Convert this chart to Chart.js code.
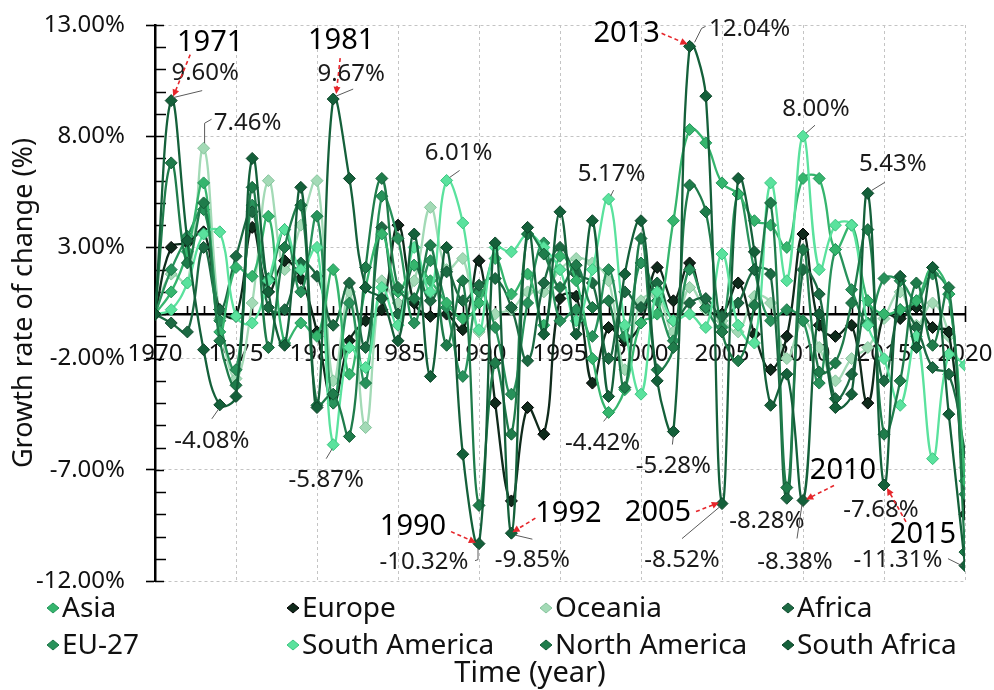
<!DOCTYPE html>
<html>
<head>
<meta charset="utf-8">
<script src="https://cdn.jsdelivr.net/npm/chart.js@4.4.1/dist/chart.umd.min.js"></script>
<style>
  html, body { margin: 0; padding: 0; background: #fff; }
  #wrap { width: 994px; height: 690px; position: relative; }
</style>
</head>
<body>
<div id="wrap"><canvas id="chart" width="994" height="690"></canvas></div>
<script>
// Years on the horizontal axis
const years = [1970, 1971, 1972, 1973, 1974, 1975, 1976, 1977, 1978, 1979,
  1980, 1981, 1982, 1983, 1984, 1985, 1986, 1987, 1988, 1989,
  1990, 1991, 1992, 1993, 1994, 1995, 1996, 1997, 1998, 1999,
  2000, 2001, 2002, 2003, 2004, 2005, 2006, 2007, 2008, 2009,
  2010, 2011, 2012, 2013, 2014, 2015, 2016, 2017, 2018, 2019, 2020];

// Annual growth rate of change (%) per region
const asia = [0, 1.0, 2.8, 5.9, -0.8, 2.1, 1.7, 4.4, -1.3, -0.4,
  -1.0, 2.0, -2.7, 1.2, 3.6, 1.0, 2.2, 1.5, 0.5, -0.2,
  0.5, 2.5, 0.9, 1.8, -0.5, 2.6, 1.5, -2.0, -4.42, -3.4,
  -0.4, 0.0, 4.2, 8.3, 7.7, 5.9, 5.4, 4.2, 4.0, 3.0,
  6.1, 6.1, 2.9, 4.0, 0.6, 0.0, 0.2, 0.6, 2.1, 0.9, -7.5];
const europe = [0, 3.0, 3.2, 3.7, 0.2, -0.1, 3.9, 1.0, 2.4, 1.6,
  -0.8, -4.0, -1.2, -0.3, 0.2, 4.0, 0.5, -0.1, 0.0, -0.7,
  2.4, -4.0, -8.4, -4.2, -5.4, 0.7, 0.8, -3.1, -0.6, -1.2,
  -0.4, 2.1, 0.6, 2.3, 0.3, 0.0, 1.4, -0.9, -2.5, -1.0,
  3.6, -0.5, -1.0, -0.5, -4.0, 0.0, -0.2, 0.3, -0.6, -0.8, -9.0];
const oceania = [0, 1.8, 1.4, 7.46, -0.2, -2.9, 0.5, 6.0, 2.0, 4.0,
  6.0, -3.0, 1.0, -5.1, 1.5, 0.5, 1.5, 4.8, 2.0, 2.5,
  -0.8, 0.0, 0.2, 1.0, 1.0, 2.0, 2.5, 2.3, 1.5, -2.5,
  0.6, 0.8, -0.8, 1.2, 0.2, -0.3, -0.8, 0.8, 0.5, -2.0,
  -0.3, -1.5, -3.0, -2.0, -1.5, -0.2, 1.0, -0.5, 0.5, -1.0, -6.9];
const africa = [0, -0.4, -0.8, 3.0, 0.2, 2.6, 4.6, 0.3, 0.2, 2.3,
  1.7, -0.5, 1.4, -1.5, 3.9, 0.0, 2.2, 0.6, 1.9, 0.6,
  1.3, 1.6, 0.3, -2.1, 1.4, 3.0, 1.8, 1.4, -2.0, 1.0,
  0.3, 1.4, -0.3, 0.5, 0.7, -0.1, 0.5, 2.0, 1.8, -8.28,
  2.0, 0.9, -3.8, -2.7, 0.6, -3.0, 0.2, -0.6, -2.4, -2.7, -6.2];
const eu27 = [0, 2.0, 3.5, 4.7, -0.3, -2.5, 4.9, 1.6, 3.8, 1.0,
  4.4, -4.0, 0.5, -3.1, 5.3, 3.4, -0.4, 2.4, 0.3, -2.8,
  1.0, -0.6, -3.6, 0.5, 3.2, -0.3, 0.2, -1.0, 2.0, -1.0,
  2.3, 0.6, -1.2, 2.0, 0.3, -0.6, 5.4, 2.0, -0.3, 0.2,
  -0.3, -3.1, 2.9, 1.1, -0.4, 1.6, 1.5, 0.6, 1.8, 0.9, -8.1];
const southAmerica = [0, 0.2, 1.4, 3.6, 3.7, -0.1, -0.4, 1.5, 3.8, 2.0,
  3.0, -5.87, -1.5, -2.4, 1.2, -0.5, 3.0, 1.0, 6.01, 4.1,
  -0.7, 3.0, 2.8, 3.6, 3.0, 2.0, -0.3, 2.0, 5.17, -0.5,
  -3.6, 1.0, -0.3, 0.0, -0.6, 2.7, -0.5, -1.3, 5.9, 1.5,
  8.00, 2.0, 4.0, 4.0, -0.5, -2.0, -4.1, -1.0, -6.5, -1.8, -2.3];
const northAmerica = [0, 6.8, 2.3, 5.0, -1.2, -3.2, 5.7, -1.5, 3.0, 4.9,
  -4.1, -3.6, -5.5, 2.1, 6.1, 1.2, 0.7, 3.1, -1.4, 1.5,
  -8.6, -2.2, -5.4, 3.6, 2.7, 1.2, 2.2, 0.3, 0.6, -3.3,
  3.4, -2.5, -1.5, 5.8, 4.6, -0.8, -2.1, 0.4, 5.0, -7.8,
  2.9, -2.6, -2.2, 0.5, 3.8, -5.4, -3.0, 1.4, -1.4, 1.2, -10.7];
const southAfrica = [0, 9.60, 3.3, -1.6, -4.08, -3.7, 7.0, 1.0, -1.4, 5.7,
  -4.2, 9.67, 6.1, 1.2, 0.7, -1.2, 3.6, -2.8, 3.0, -6.3,
  -10.32, 3.2, -9.85, 3.9, -0.9, 4.6, -0.9, 4.2, -3.7, 1.8,
  4.2, -3.0, -5.28, 12.04, 9.8, -8.52, 6.1, 2.8, -4.1, -2.7,
  -8.38, 0.0, -4.2, -3.6, 5.43, -7.68, 1.7, -1.5, 2.1, -4.5, -11.31];

// Value-axis ticks
const yTickValues = [-12, -7, -2, 3, 8, 13];

const seriesNames = ['Asia', 'Europe', 'Oceania', 'Africa', 'EU-27', 'South America', 'North America', 'South Africa'];
const seriesValues = [asia, europe, oceania, africa, eu27, southAmerica, northAmerica, southAfrica];
const seriesColors = ['#35b56d', '#0f2a1b', '#a3dab6', '#1c6a43', '#28925b', '#5ae29d', '#1f7c4b', '#14603a'];
const seriesBorders = ['#23945a', '#000000', '#86c39c', '#124d30', '#1b7446', '#3cc480', '#135c36', '#0c4428'];
const drawOrder = [3, 5, 6, 4, 4, 2, 1, 0];

const FONT = '"Noto Sans", "Open Sans", sans-serif';

// Callouts: value labels with leader lines, and year labels with red arrows
const callouts = [
  { s: 'South Africa', year: 1971, t: [34, -27], lead: [[2, -3], [31, -10]], yl: [39, -58], arrow: [[19, -46], [2, -4]] },
  { s: 'South Africa', year: 1981, t: [18, -25], lead: [[3, -3], [20, -10]], yl: [8, -58], arrow: [[7, -41], [3, -5]] },
  { s: 'Oceania', year: 1973, t: [44, -25], lead: [[1, -5], [1, -25], [8, -29]] },
  { s: 'South America', year: 1988, t: [12, -27], lead: [[3, -3], [13, -10]] },
  { s: 'South America', year: 1998, t: [3, -25], lead: [[2, -3], [5, -9]] },
  { s: 'South Africa', year: 2003, t: [60, -17], lead: [[5, -4], [12, -18], [16, -20]], yl: [-63, -13], arrow: [[-28, -13], [-2, -2]] },
  { s: 'South America', year: 2010, t: [13, -27], lead: [[3, -3], [12, -11]] },
  { s: 'South Africa', year: 2014, t: [25, -29], lead: [[4, -3], [17, -11]] },
  { s: 'South Africa', year: 1974, t: [-8, 36], lead: [[-1, 4], [-8, 14]] },
  { s: 'South America', year: 1981, t: [-7, 35], lead: [[-1, 4], [-7, 14]] },
  { s: 'Asia', year: 1998, t: [-6, 31], lead: [[-1, 4], [-5, 9]] },
  { s: 'South Africa', year: 2002, t: [0, 35], lead: [[0, 4], [-1, 13]] },
  { s: 'South Africa', year: 1990, t: [-55, 19], lead: [[-1, 5], [-1, 16], [-4, 17]], yl: [-66, -17], arrow: [[-28, -12], [-3, -1]] },
  { s: 'South Africa', year: 1992, t: [21, 27], lead: [[4, 2], [21, 6]], yl: [57, -19], arrow: [[24, -15], [1, -1]] },
  { s: 'South Africa', year: 2005, t: [-40, 57], lead: [[-2, 3], [-40, 35]], yl: [-64, 9], arrow: [[-26, 8], [-3, -1]] },
  { s: 'Africa', year: 2009, t: [-20, 23] },
  { s: 'South Africa', year: 2010, t: [-8, 62], lead: [[-1, 4], [-6, 38]], yl: [40, -30], arrow: [[31, -15], [3, -1]] },
  { s: 'South Africa', year: 2015, t: [-3, 25], yl: [39, 50], arrow: [[22, 37], [3, 3]] },
  { s: 'South Africa', year: 2020, t: [-67, -5], lead: [[-17, -7], [-3, 0]] }
];

// Minor ticks on both axes and the right-hand half of the major value ticks
const axisDecor = {
  id: 'axisDecor',
  beforeDatasetsDraw(chart) {
    const { ctx, scales: { x, y } } = chart;
    const x0 = x.getPixelForValue(years[0]);
    const yZero = y.getPixelForValue(0);
    ctx.save();
    ctx.strokeStyle = '#000';
    ctx.lineWidth = 1.6;
    ctx.beginPath();
    for (let v = Math.ceil(y.min); v <= y.max; v++) {
      const py = Math.round(y.getPixelForValue(v)) + 0.5;
      const major = yTickValues.includes(v);
      ctx.moveTo(x0, py);
      ctx.lineTo(x0 + (major ? 9 : 11), py);
    }
    for (let i = 1; i < years.length; i++) {
      const px = Math.round(x.getPixelForValue(years[i])) + 0.5;
      ctx.moveTo(px, yZero);
      ctx.lineTo(px, yZero - 8);
      if (i === years.length - 1) ctx.lineTo(px, yZero + 8);
    }
    ctx.stroke();
    ctx.restore();
  }
};

function arrowLine(ctx, a, b) {
  ctx.save();
  ctx.strokeStyle = '#e6262b';
  ctx.fillStyle = '#e6262b';
  ctx.lineWidth = 1.6;
  ctx.setLineDash([4, 3]);
  const ang = Math.atan2(b[1] - a[1], b[0] - a[0]);
  const hx = b[0] - Math.cos(ang) * 6, hy = b[1] - Math.sin(ang) * 6;
  ctx.beginPath();
  ctx.moveTo(a[0], a[1]);
  ctx.lineTo(hx, hy);
  ctx.stroke();
  ctx.setLineDash([]);
  ctx.beginPath();
  ctx.moveTo(b[0], b[1]);
  ctx.lineTo(b[0] - Math.cos(ang - 0.45) * 8, b[1] - Math.sin(ang - 0.45) * 8);
  ctx.lineTo(b[0] - Math.cos(ang + 0.45) * 8, b[1] - Math.sin(ang + 0.45) * 8);
  ctx.closePath();
  ctx.fill();
  ctx.restore();
}

const calloutPlugin = {
  id: 'callouts',
  afterDatasetsDraw(chart) {
    const { ctx, scales: { x, y } } = chart;
    ctx.save();
    callouts.forEach(c => {
      const vals = seriesValues[seriesNames.indexOf(c.s)];
      const v = vals[years.indexOf(c.year)];
      const px = x.getPixelForValue(c.year);
      const py = y.getPixelForValue(v);
      if (c.lead) {
        ctx.strokeStyle = '#5a5a5a';
        ctx.lineWidth = 1;
        ctx.beginPath();
        c.lead.forEach((p, i) => i ? ctx.lineTo(px + p[0], py + p[1]) : ctx.moveTo(px + p[0], py + p[1]));
        ctx.stroke();
      }
      ctx.fillStyle = '#1a1a1a';
      ctx.font = '24px ' + FONT;
      ctx.textAlign = 'center';
      ctx.textBaseline = 'middle';
      ctx.fillText(v.toFixed(2) + '%', px + c.t[0], py + c.t[1]);
      if (c.yl) {
        ctx.fillStyle = '#000';
        ctx.font = '29px ' + FONT;
        ctx.fillText(String(c.year === 2003 ? 2013 : c.year), px + c.yl[0], py + c.yl[1]);
        arrowLine(ctx, [px + c.arrow[0][0], py + c.arrow[0][1]], [px + c.arrow[1][0], py + c.arrow[1][1]]);
      }
    });
    ctx.restore();
  }
};

// Four-column legend and the time-axis title below the plot
const bottomLegend = {
  id: 'bottomLegend',
  afterDraw(chart) {
    const { ctx } = chart;
    const cols = [53, 293, 546, 788];
    const rows = [608, 645];
    ctx.save();
    ctx.font = '28px ' + FONT;
    ctx.textBaseline = 'middle';
    ctx.textAlign = 'left';
    seriesNames.forEach((name, i) => {
      const cx = cols[i % 4], cy = rows[Math.floor(i / 4)];
      ctx.fillStyle = seriesColors[i];
      ctx.strokeStyle = seriesBorders[i];
      ctx.lineWidth = 1;
      ctx.beginPath();
      ctx.moveTo(cx, cy - 5); ctx.lineTo(cx + 6, cy); ctx.lineTo(cx, cy + 5); ctx.lineTo(cx - 6, cy);
      ctx.closePath();
      ctx.fill(); ctx.stroke();
      ctx.fillStyle = '#111';
      ctx.fillText(name, cx + 9, cy + 1);
    });
    ctx.textAlign = 'center';
    ctx.font = '29px ' + FONT;
    ctx.fillText('Time (year)', 530, 674);
    ctx.restore();
  }
};

const datasets = seriesNames.map((name, i) => ({
  label: name,
  data: years.map((yr, k) => ({ x: yr, y: seriesValues[i][k] })),
  borderColor: seriesColors[i],
  backgroundColor: seriesColors[i],
  pointBackgroundColor: seriesColors[i],
  pointBorderColor: seriesBorders[i],
  pointBorderWidth: 1,
  pointStyle: 'rectRot',
  pointRadius: 6,
  borderWidth: 2.3,
  tension: 0.4,
  order: drawOrder[i],
  fill: false
}));

new Chart(document.getElementById('chart'), {
  type: 'line',
  data: { datasets },
  plugins: [axisDecor, calloutPlugin, bottomLegend],
  options: {
    responsive: false,
    animation: false,
    layout: { padding: { left: 0, right: 29, top: 25, bottom: 109 } },
    plugins: { legend: { display: false }, tooltip: { enabled: false } },
    scales: {
      x: {
        type: 'linear',
        min: 1970, max: 2020,
        position: { y: 0 },
        afterFit: s => { s.paddingLeft = 0; s.paddingRight = 0; s.paddingTop = 0; s.paddingBottom = 0; },
        ticks: { stepSize: 5, color: '#111', font: { family: FONT, size: 24 }, padding: 26, maxRotation: 0, callback: v => String(v) },
        grid: { color: '#c4c4c4', lineWidth: 1, drawTicks: false },
        border: { display: true, color: '#000', width: 2.5, dash: [3, 3] }
      },
      y: {
        min: -12, max: 13,
        afterBuildTicks: s => { s.ticks = yTickValues.map(v => ({ value: v })); },
        afterFit: s => { s.width = 155; s.paddingTop = 0; s.paddingBottom = 0; },
        ticks: { color: '#111', font: { family: FONT, size: 24 }, padding: 21, callback: v => v.toFixed(2) + '%' },
        grid: { color: '#c4c4c4', lineWidth: 1, tickColor: '#000', tickWidth: 1.6, tickLength: 9 },
        border: { display: true, color: '#000', width: 2.5, dash: [3, 3] },
        title: { display: true, text: 'Growth rate of change (%)', color: '#111', font: { family: FONT, size: 27 }, padding: { top: 8, bottom: 0 } }
      }
    }
  }
});
</script>
</body>
</html>
